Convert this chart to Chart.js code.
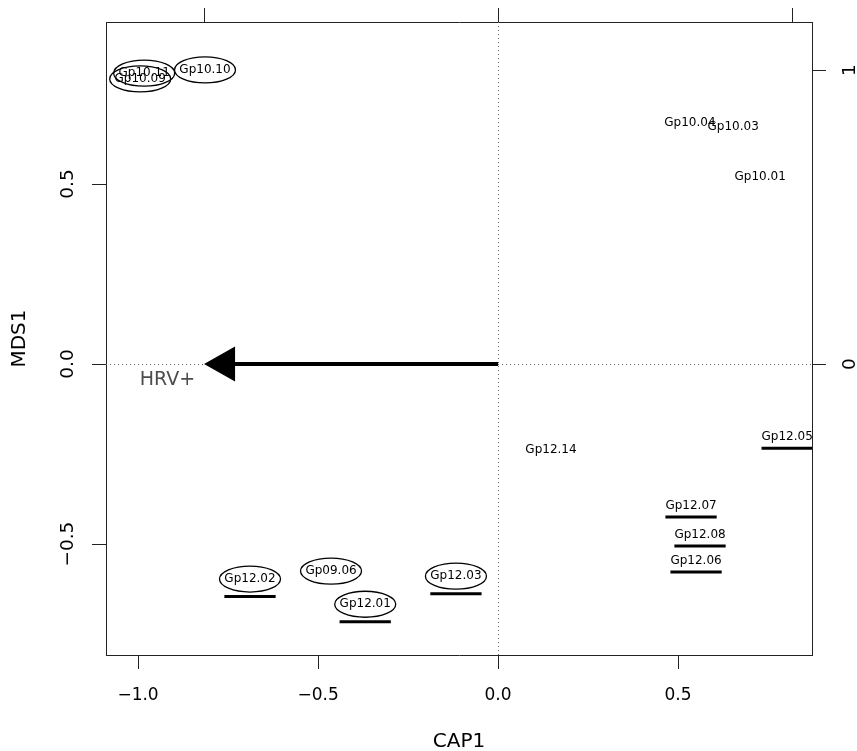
<!DOCTYPE html>
<html>
<head>
<meta charset="utf-8">
<title>CAP ordination</title>
<script src="https://cdn.jsdelivr.net/npm/chart.js@4.4.1/dist/chart.umd.min.js"></script>
<style>
  html, body { margin: 0; padding: 0; background: #fff; }
  canvas { display: block; }
</style>
</head>
<body>
<canvas id="capPlot" width="857" height="751"></canvas>
<script>
// site scores (CAP1 / MDS1)
const sites = ['Gp10.11', 'Gp10.09', 'Gp10.10', 'Gp10.04', 'Gp10.03', 'Gp10.01',
               'Gp12.14', 'Gp12.05', 'Gp12.07', 'Gp12.08', 'Gp12.06',
               'Gp12.02', 'Gp09.06', 'Gp12.01', 'Gp12.03'];
const cap1 = [-0.983, -0.994, -0.814, 0.533, 0.653, 0.728,
              0.147, 0.803, 0.536, 0.561, 0.550,
              -0.689, -0.464, -0.369, -0.117];
const mds1 = [0.808, 0.792, 0.817, 0.669, 0.658, 0.519,
              -0.239, -0.203, -0.394, -0.475, -0.547,
              -0.597, -0.575, -0.667, -0.589];

// group membership shown by ellipse / underline
const circled = ['Gp10.11', 'Gp10.09', 'Gp10.10', 'Gp12.02', 'Gp09.06', 'Gp12.01', 'Gp12.03'];
const underlined = ['Gp12.05', 'Gp12.07', 'Gp12.08', 'Gp12.06', 'Gp12.02', 'Gp12.01', 'Gp12.03'];

// biplot arrow (on the top / right axes)
const envNames = ['HRV+'];
const envX = [-1.0];
const envY = [0.0];

// axis ranges and ticks
const xRange = [-1.089, 0.872];
const yRange = [-0.808, 0.95];
const arrowMult = 360 / 294;   // main units per biplot unit
const capTicks = [-1.0, -0.5, 0.0, 0.5];
const mdsTicks = [-0.5, 0.0, 0.5];
const topTicks = [-1, 0, 1];
const rightTicks = [0, 1];

const FONT = 'DejaVu Sans';
const bottomTickFont = { family: FONT, size: 17 };
const sideTickFont = { family: FONT, size: 18.5 };
const titleFont = { family: FONT, size: 20 };
const minus = v => v.toFixed(1).replace('-', '\u2212');

function fixTicks(list) {
    return s => { s.ticks = list.map(v => ({ value: v })); };
}
function fixSize(prop, size) {
    return s => {
        s[prop] = size;
        s.paddingTop = 0; s.paddingBottom = 0; s.paddingLeft = 0; s.paddingRight = 0;
    };
}

const tickGrid = { drawOnChartArea: false, drawTicks: true, tickLength: 14, tickColor: '#222', tickWidth: 1 };
const boxBorder = { display: true, color: '#222', width: 1 };

const ordiPlugin = {
    id: 'ordi',
    afterDatasetsDraw(chart) {
        const { ctx, chartArea, scales } = chart;
        const xs = scales.x, ys = scales.y, x2 = scales.x2, y2 = scales.y2;

        ctx.save();
        ctx.beginPath();
        ctx.rect(chartArea.left, chartArea.top, chartArea.right - chartArea.left, chartArea.bottom - chartArea.top);
        ctx.clip();

        // dotted zero lines
        ctx.strokeStyle = '#666';
        ctx.lineWidth = 1;
        ctx.setLineDash([1, 3]);
        const x0 = Math.round(xs.getPixelForValue(0)) + 0.5;
        const y0 = Math.round(ys.getPixelForValue(0)) + 0.5;
        ctx.beginPath();
        ctx.moveTo(x0, chartArea.top); ctx.lineTo(x0, chartArea.bottom);
        ctx.moveTo(chartArea.left, y0); ctx.lineTo(chartArea.right, y0);
        ctx.stroke();
        ctx.setLineDash([]);

        // site labels
        ctx.font = '12px "' + FONT + '"';
        ctx.textAlign = 'center';
        ctx.textBaseline = 'middle';
        const meta = chart.getDatasetMeta(0);
        const pos = meta.data.map(p => ({ x: p.x, y: p.y }));

        ctx.strokeStyle = '#000';
        ctx.lineWidth = 1.3;
        sites.forEach((s, i) => {
            if (!circled.includes(s)) return;
            ctx.beginPath();
            ctx.ellipse(pos[i].x, pos[i].y, 30.5, 13, 0, 0, Math.PI * 2);
            ctx.stroke();
        });

        ctx.lineWidth = 3;
        sites.forEach((s, i) => {
            if (!underlined.includes(s)) return;
            const w = ctx.measureText(s).width;
            const dy = circled.includes(s) ? 17.5 : 11;
            ctx.beginPath();
            ctx.moveTo(pos[i].x - w / 2, pos[i].y + dy);
            ctx.lineTo(pos[i].x + w / 2, pos[i].y + dy);
            ctx.stroke();
        });

        ctx.fillStyle = '#000';
        sites.forEach((s, i) => ctx.fillText(s, pos[i].x, pos[i].y));

        // biplot arrow
        envNames.forEach((name, i) => {
            const ox = x2.getPixelForValue(0), oy = y2.getPixelForValue(0);
            const tx = x2.getPixelForValue(envX[i]), ty = y2.getPixelForValue(envY[i]);
            const ang = Math.atan2(ty - oy, tx - ox);
            const headLen = 31, headHalf = 17.5;
            const bx = tx - headLen * Math.cos(ang), by = ty - headLen * Math.sin(ang);
            ctx.strokeStyle = '#000';
            ctx.lineWidth = 4;
            ctx.beginPath();
            ctx.moveTo(ox, oy); ctx.lineTo(bx, by);
            ctx.stroke();
            ctx.fillStyle = '#000';
            ctx.beginPath();
            ctx.moveTo(tx, ty);
            ctx.lineTo(bx + headHalf * Math.sin(ang), by - headHalf * Math.cos(ang));
            ctx.lineTo(bx - headHalf * Math.sin(ang), by + headHalf * Math.cos(ang));
            ctx.closePath();
            ctx.fill();

            ctx.fillStyle = '#4d4d4d';
            ctx.font = '19px "' + FONT + '"';
            ctx.textAlign = 'right';
            ctx.textBaseline = 'middle';
            ctx.fillText(name, tx - 9, ty + 16);
        });
        ctx.restore();
    }
};

const ctx = document.getElementById('capPlot').getContext('2d');
new Chart(ctx, {
    type: 'scatter',
    data: {
        datasets: [{
            label: 'sites',
            data: sites.map((s, i) => ({ x: cap1[i], y: mds1[i] })),
            pointRadius: 0,
            pointHoverRadius: 0
        }]
    },
    options: {
        responsive: false,
        animation: false,
        events: [],
        layout: { padding: 0 },
        plugins: { legend: { display: false }, tooltip: { enabled: false } },
        scales: {
            x: {
                type: 'linear', position: 'bottom',
                min: xRange[0], max: xRange[1],
                afterBuildTicks: fixTicks(capTicks),
                afterFit: fixSize('height', 96),
                grid: tickGrid, border: boxBorder,
                ticks: { font: bottomTickFont, color: '#000', padding: 16, maxRotation: 0, callback: v => minus(v) },
                title: { display: true, text: 'CAP1', font: titleFont, color: '#000', padding: { top: 0, bottom: -3 } }
            },
            y: {
                type: 'linear', position: 'left',
                min: yRange[0], max: yRange[1],
                afterBuildTicks: fixTicks(mdsTicks),
                afterFit: fixSize('width', 106),
                grid: tickGrid, border: boxBorder,
                ticks: { font: sideTickFont, color: '#000', padding: 1.5, crossAlign: 'center', minRotation: 90, maxRotation: 90, callback: v => minus(v) },
                title: { display: true, text: 'MDS1', font: titleFont, color: '#000', padding: { top: 8, bottom: 0 } }
            },
            x2: {
                type: 'linear', position: 'top',
                min: xRange[0] * arrowMult, max: xRange[1] * arrowMult,
                afterBuildTicks: fixTicks(topTicks),
                afterFit: fixSize('height', 22),
                grid: tickGrid, border: boxBorder,
                ticks: { display: false }
            },
            y2: {
                type: 'linear', position: 'right',
                min: yRange[0] * arrowMult, max: yRange[1] * arrowMult,
                afterBuildTicks: fixTicks(rightTicks),
                afterFit: fixSize('width', 45),
                grid: tickGrid, border: boxBorder,
                ticks: { font: sideTickFont, color: '#000', padding: 18, crossAlign: 'center', minRotation: 90, maxRotation: 90, callback: v => String(v) }
            }
        }
    },
    plugins: [ordiPlugin]
});
</script>
</body>
</html>
